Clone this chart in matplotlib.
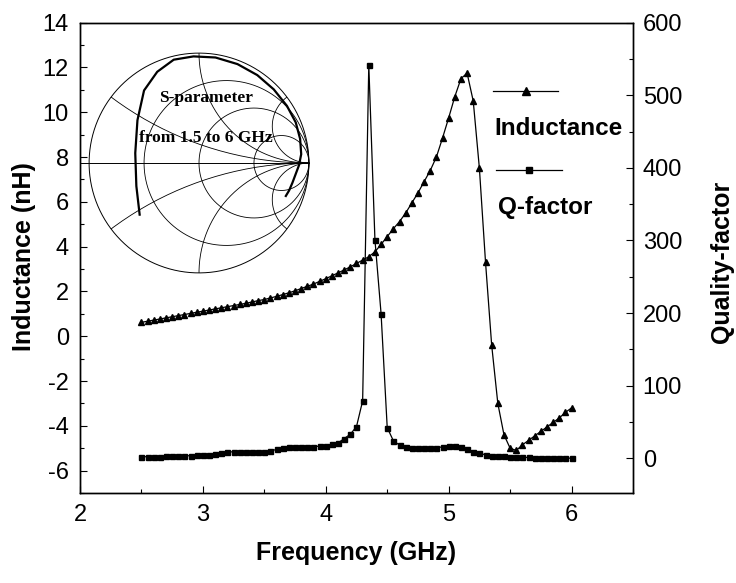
import numpy as np
import matplotlib
matplotlib.use("Agg")
import matplotlib.pyplot as plt
from matplotlib.patches import Circle
from matplotlib.ticker import MultipleLocator

plt.rcParams['font.family'] = ['Liberation Sans', 'DejaVu Sans']
plt.rcParams['axes.unicode_minus'] = False

# frequency points (GHz), 2.5 to 6.0 in 0.05 steps
freq = [2.50, 2.55, 2.60, 2.65, 2.70, 2.75, 2.80, 2.85, 2.90, 2.95,
        3.00, 3.05, 3.10, 3.15, 3.20, 3.25, 3.30, 3.35, 3.40, 3.45,
        3.50, 3.55, 3.60, 3.65, 3.70, 3.75, 3.80, 3.85, 3.90, 3.95,
        4.00, 4.05, 4.10, 4.15, 4.20, 4.25, 4.30, 4.35, 4.40, 4.45,
        4.50, 4.55, 4.60, 4.65, 4.70, 4.75, 4.80, 4.85, 4.90, 4.95,
        5.00, 5.05, 5.10, 5.15, 5.20, 5.25, 5.30, 5.35, 5.40, 5.45,
        5.50, 5.55, 5.60, 5.65, 5.70, 5.75, 5.80, 5.85, 5.90, 5.95, 6.00]

# inductance (nH)
inductance = [0.62, 0.67, 0.72, 0.77, 0.82, 0.87, 0.92, 0.97, 1.02, 1.07,
              1.12, 1.17, 1.22, 1.27, 1.32, 1.37, 1.42, 1.47, 1.53, 1.59,
              1.64, 1.71, 1.78, 1.86, 1.94, 2.03, 2.13, 2.23, 2.33, 2.45,
              2.57, 2.70, 2.83, 2.96, 3.10, 3.25, 3.40, 3.55, 3.77, 4.10,
              4.45, 4.80, 5.12, 5.50, 5.95, 6.40, 6.90, 7.40, 8.00, 8.85,
              9.75, 10.70, 11.50, 11.75, 10.50, 7.50, 3.30, -0.40, -3.00, -4.40,
              -5.00, -5.10, -4.85, -4.65, -4.45, -4.25, -4.05, -3.85, -3.65, -3.40, -3.20]

# quality factor
qfactor = [2, 2, 2, 2, 2.5, 2.5, 3, 3, 3.5, 4,
           4.5, 5, 6, 7, 8, 9, 8.5, 8, 8, 8.5,
           9, 10, 12, 14, 15.5, 16, 16, 16, 16, 16.5,
           17, 19, 21, 27, 33, 43.5, 79, 542, 301, 199,
           42, 24, 18, 15.5, 14, 13.5, 13.5, 14, 14.5, 15.5,
           17, 17, 15.5, 13, 9, 7, 4.5, 3.5, 3, 2.5,
           2, 1.5, 1, 1, 0.5, 0.5, 0, 0, 0, 0, 0]

# S11 trace on the Smith chart (reflection coefficient, 1.5 to 6 GHz)
s11_re = [-0.54, -0.57, -0.58, -0.56, -0.50, -0.38, -0.23, -0.05, 0.15, 0.35,
          0.53, 0.68, 0.80, 0.88, 0.92, 0.93, 0.91, 0.88, 0.85, 0.82, 0.79]
s11_im = [-0.47, -0.21, 0.09, 0.39, 0.66, 0.83, 0.94, 0.97, 0.96, 0.90,
          0.80, 0.67, 0.52, 0.37, 0.22, 0.08, -0.02, -0.10, -0.18, -0.25, -0.30]

# Smith chart grid values
smith_r = [1 / 3, 1, 3]
smith_x = [1 / 3, 1, 3, -1 / 3, -1, -3]

W, H = 736, 583
fig = plt.figure(figsize=(W / 100, H / 100), dpi=100)
ax = fig.add_axes([80 / W, 1 - 493 / H, 553 / W, 470.3 / H])
ax2 = ax.twinx()

ax.plot(freq, inductance, color="black", lw=0.9, marker="^", ms=4.5)
ax2.plot(freq, qfactor, color="black", lw=0.9, marker="s", ms=3.6)

ax.set_xlim(2, 6.5)
ax.set_ylim(-7, 14)
ax2.set_ylim(-48, 600)

ax.xaxis.set_major_locator(MultipleLocator(1))
ax.xaxis.set_minor_locator(MultipleLocator(0.5))
ax.yaxis.set_major_locator(MultipleLocator(2))
ax.yaxis.set_minor_locator(MultipleLocator(1))
ax2.yaxis.set_major_locator(MultipleLocator(100))
ax2.yaxis.set_minor_locator(MultipleLocator(50))

ax.tick_params(which="both", direction="in", top=False, right=False, width=0.8)
ax.tick_params(which="major", length=5, labelsize=17, pad=8)
ax.tick_params(which="minor", length=3)
ax2.tick_params(which="both", direction="in", width=0.8)
ax2.tick_params(which="major", length=5, labelsize=17, pad=7)
ax2.tick_params(which="minor", length=3)
for a in (ax, ax2):
    for s in a.spines.values():
        s.set_linewidth(1.0)

fig.text(24 / W, 1 - 257 / H, "Inductance (nH)", rotation=90, ha="center", va="center",
         fontsize=18, fontweight="bold")
fig.text(722 / W, 1 - 262 / H, "Quality-factor", rotation=90, ha="center", va="center",
         fontsize=18, fontweight="bold")
fig.text(356.5 / W, 1 - 553 / H, "Frequency (GHz)", ha="center", va="center",
         fontsize=18, fontweight="bold")

# hand-made legend
ax.plot([0.747, 0.806, 0.864], [0.855, 0.855, 0.855], transform=ax.transAxes,
        color="black", lw=0.9, marker="^", ms=5.5, markevery=[1])
ax.text(0.749, 0.776, "Inductance", transform=ax.transAxes, ha="left", va="center",
        fontsize=17.5, fontweight="bold")
ax.plot([0.752, 0.812, 0.872], [0.687, 0.687, 0.687], transform=ax.transAxes,
        color="black", lw=0.9, marker="s", ms=4.5, markevery=[1])
ax.text(0.756, 0.608, "Q-factor", transform=ax.transAxes, ha="left", va="center",
        fontsize=17.5, fontweight="bold")

# Smith chart inset
ins = fig.add_axes([88 / W, 1 - 274 / H, 222 / W, 222 / H])
ins.set_xlim(-1.01, 1.01)
ins.set_ylim(-1.01, 1.01)
ins.set_aspect("equal")
ins.axis("off")
ins.patch.set_alpha(0)

clip = Circle((0, 0), 1, transform=ins.transData, fill=False)
t = np.linspace(0, 2 * np.pi, 400)
ins.plot(np.cos(t), np.sin(t), color="black", lw=0.7)
for r in smith_r:
    c = r / (1 + r)
    rad = 1 / (1 + r)
    ins.plot(c + rad * np.cos(t), rad * np.sin(t), color="black", lw=0.6)
for x in smith_x:
    ln, = ins.plot(1 + abs(1 / x) * np.cos(t), 1 / x + abs(1 / x) * np.sin(t),
                   color="black", lw=0.6)
    ln.set_clip_path(clip)
ins.plot([-1.08, 1.0], [0, 0], color="black", lw=0.7, clip_on=False)
ins.plot(s11_re, s11_im, color="black", lw=1.6)

ins.text(0.06, 0.59, "S-parameter", ha="center", va="center", fontsize=12.5,
         fontweight="bold", family="Liberation Serif")
ins.text(0.06, 0.23, "from 1.5 to 6 GHz", ha="center", va="center", fontsize=12.5,
         fontweight="bold", family="Liberation Serif")

fig.savefig("out.png", dpi=100)
